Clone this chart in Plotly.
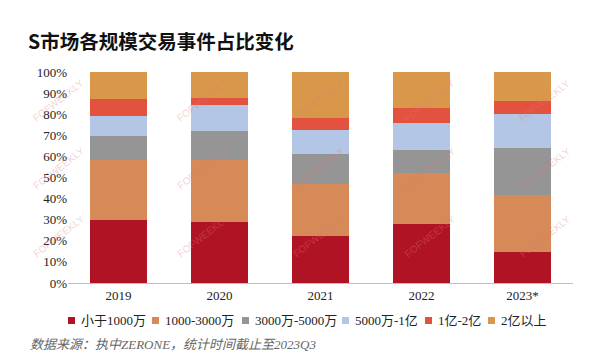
import plotly.graph_objects as go

categories = ["2019", "2020", "2021", "2022", "2023*"]
series_names = ["小于1000万", "1000-3000万", "3000万-5000万", "5000万-1亿", "1亿-2亿", "2亿以上"]
s_lt1000 = [30.0, 28.8, 22.5, 27.8, 14.9]
s_1000_3000 = [28.2, 29.4, 24.3, 24.4, 27.0]
s_3000_5000 = [11.4, 13.8, 14.3, 10.9, 22.3]
s_5000_1yi = [9.5, 12.5, 11.5, 12.5, 15.7]
s_1yi_2yi = [7.9, 3.3, 5.7, 7.5, 6.5]
s_gt2yi = [13.0, 12.2, 21.7, 16.9, 13.6]
colors = ["#B01424", "#D68A58", "#959595", "#B3C6E5", "#E3513F", "#D9974A"]

all_series = [s_lt1000, s_1000_3000, s_3000_5000, s_5000_1yi, s_1yi_2yi, s_gt2yi]

fig = go.Figure()
for name, vals, col in zip(series_names, all_series, colors):
    fig.add_trace(go.Bar(x=categories, y=vals, name=name, marker_color=col,
                         marker_line_width=0))

serif = "Liberation Serif, Times New Roman, serif"
L, R, T, B = 68, 27, 72, 79
PW, PH = 600 - L - R, 362 - T - B

fig.update_layout(
    barmode="stack",
    bargap=0.445,
    width=600, height=362,
    margin=dict(l=L, r=R, t=T, b=B, autoexpand=False),
    plot_bgcolor="white", paper_bgcolor="white",
    font=dict(family=serif, size=13, color="#222"),
    showlegend=False,
    xaxis=dict(showgrid=False, showline=True, linecolor="#BFBFBF", linewidth=1,
               ticks="", tickfont=dict(family=serif, size=13, color="#222")),
    yaxis=dict(range=[0, 100], dtick=10, ticksuffix="%", showgrid=False,
               showline=False, zeroline=False, ticks="",
               tickfont=dict(family=serif, size=13, color="#222")),
)

def px_x(x):
    return (x - L) / PW

def px_y(y):
    return (362 - B - y) / PH

annotations = [
    dict(text="<b>S市场各规模交易事件占比变化</b>", xref="paper", yref="paper",
         x=px_x(26), y=px_y(40), xanchor="left", yanchor="middle",
         showarrow=False, font=dict(family="Noto Sans CJK SC", size=19.5, color="#111")),
    dict(text="<i>数据来源：执中ZERONE，统计时间截止至2023Q3</i>", xref="paper", yref="paper",
         x=px_x(28), y=px_y(344), xanchor="left", yanchor="middle",
         showarrow=False, font=dict(family="Liberation Serif, Noto Sans CJK SC", size=13, color="#666")),
]

# legend (manual, one row)
legend_sq_x = [68, 152, 242, 342, 425, 488]
shapes = []
for sx, name, col in zip(legend_sq_x, series_names, colors):
    shapes.append(dict(type="rect", xref="paper", yref="paper",
                       x0=px_x(sx), x1=px_x(sx + 7), y0=px_y(324), y1=px_y(317),
                       fillcolor=col, line_width=0))
    annotations.append(dict(text=name, xref="paper", yref="paper",
                            x=px_x(sx + 11), y=px_y(320), xanchor="left", yanchor="middle",
                            showarrow=False,
                            font=dict(family="Liberation Serif, Noto Sans CJK SC", size=13, color="#222")))

wm_x = [28, 172, 318, 460, 575]
wm_y = [75, 168, 262]
for wx in wm_x:
    for wy in wm_y:
        annotations.append(dict(text="FOFWEEKLY", xref="paper", yref="paper",
                                x=px_x(wx), y=px_y(wy),
                                showarrow=False, textangle=-38,
                                font=dict(family="Liberation Sans", size=10,
                                          color="rgba(225,120,120,0.35)")))

fig.update_layout(annotations=annotations, shapes=shapes)
fig.write_html("out.html", config={"displayModeBar": False},
               post_script="document.body.style.margin='0px';")
